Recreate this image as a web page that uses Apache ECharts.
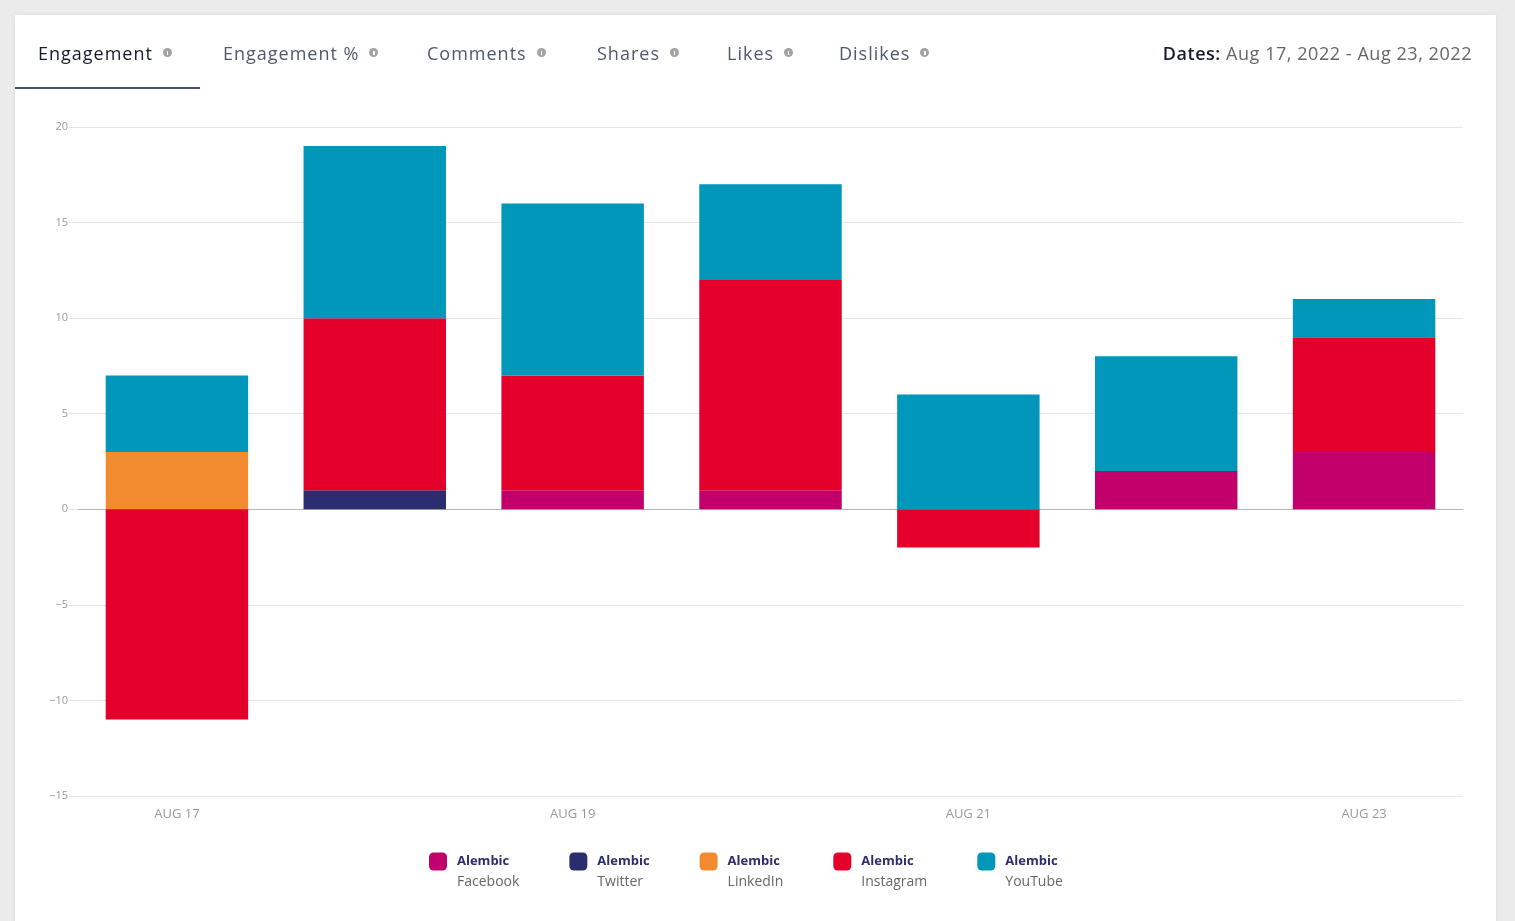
<!DOCTYPE html>
<html>
<head>
<meta charset="utf-8">
<script src="https://cdn.jsdelivr.net/npm/echarts@6/dist/echarts.min.js"></script>
<style>
  html, body { margin:0; padding:0; width:1515px; height:921px; overflow:hidden; background:#ebebeb; font-family:"Open Sans", sans-serif; }
  #card { position:absolute; left:15px; top:15px; width:1481px; height:920px; background:#fff; box-shadow:0 0 4px rgba(0,0,0,0.08); }
  #chart { position:absolute; left:0; top:0; width:1515px; height:921px; }
  .tab { position:absolute; top:40px; font-size:18px; line-height:26px; color:#4f586c; white-space:nowrap; letter-spacing:1px; font-weight:500; }
  .tab.active { color:#161c2d; }
  .dot { display:inline-block; width:9px; height:9px; border-radius:50%; background:#a3a3a3; margin-left:10px; vertical-align:3px; position:relative; }
  .dot::after { content:""; position:absolute; left:4px; top:2.5px; width:1.2px; height:4px; background:#fff; }
  #underline { position:absolute; left:15px; top:87px; width:185px; height:2px; background:#44506e; }
  #dates { position:absolute; top:40px; right:43px; font-size:18px; line-height:26px; color:#666; white-space:nowrap; letter-spacing:0.55px; }
  #dates b { color:#161c2d; font-weight:600; }
</style>
</head>
<body>
<div id="card"></div>
<div id="chart"></div>
<div class="tab active" style="left:38px">Engagement<span class="dot"></span></div>
<div class="tab" style="left:223px">Engagement %<span class="dot"></span></div>
<div class="tab" style="left:427px">Comments<span class="dot"></span></div>
<div class="tab" style="left:597px">Shares<span class="dot"></span></div>
<div class="tab" style="left:727px">Likes<span class="dot"></span></div>
<div class="tab" style="left:839px">Dislikes<span class="dot"></span></div>
<div id="underline"></div>
<div id="dates"><b>Dates:</b> Aug 17, 2022 - Aug 23, 2022</div>
<script>
const categories = ['AUG 17', 'AUG 18', 'AUG 19', 'AUG 20', 'AUG 21', 'AUG 22', 'AUG 23'];
const facebook  = [0, 0, 1, 1, 0, 2, 3];
const twitter   = [0, 1, 0, 0, 0, 0, 0];
const linkedin  = [3, 0, 0, 0, 0, 0, 0];
const instagram = [-11, 9, 6, 11, -2, 0, 6];
const youtube   = [4, 9, 9, 5, 6, 6, 2];
const seriesNames = ['Facebook', 'Twitter', 'LinkedIn', 'Instagram', 'YouTube'];
const seriesColors = ['#c1006b', '#2c2d6e', '#f28b30', '#e4002b', '#0097bb'];
const yTicks = { min: -15, max: 20, interval: 5 };

const dataSets = [facebook, twitter, linkedin, instagram, youtube];
const chart = echarts.init(document.getElementById('chart'), null, { renderer: 'canvas' });
const font = '"Open Sans", sans-serif';
chart.setOption({
  animation: false,
  grid: { left: 78, right: 52, top: 127, bottom: 125 },
  legend: {
    top: 829,
    left: 424,
    itemWidth: 18,
    itemHeight: 18,
    itemGap: 50,
    icon: 'roundRect',
    data: seriesNames,
    formatter: function (name) { return '{s| }\n{a|Alembic}\n{b|' + name + '}'; },
    textStyle: {
      padding: [0, 0, 0, 5],
      rich: {
        s: { fontSize: 13, lineHeight: 21 },
        a: { fontSize: 13, fontWeight: 'bold', color: '#2c2d6e', lineHeight: 21, fontFamily: font },
        b: { fontSize: 14, color: '#666', lineHeight: 21, fontFamily: font }
      }
    }
  },
  xAxis: {
    type: 'category',
    data: categories,
    axisLine: { lineStyle: { color: '#b5b5b5' } },
    axisTick: { show: false },
    axisLabel: { interval: 1, color: '#999', fontSize: 13, margin: 12, fontFamily: font }
  },
  yAxis: {
    type: 'value',
    min: yTicks.min, max: yTicks.max, interval: yTicks.interval,
    axisLine: { show: false },
    axisTick: { show: true, length: 9, lineStyle: { color: '#e3e3e3' } },
    splitLine: { lineStyle: { color: '#e6e6e6' } },
    axisLabel: { color: '#999', fontSize: 11, margin: 10, fontFamily: font,
      formatter: function (v) { return String(v).replace('-', '\u2212'); } }
  },
  series: seriesNames.map(function (n, i) {
    return {
      name: n,
      type: 'bar',
      stack: 'total',
      barWidth: '72%',
      itemStyle: { color: seriesColors[i] },
      data: dataSets[i]
    };
  })
});
</script>
</body>
</html>
